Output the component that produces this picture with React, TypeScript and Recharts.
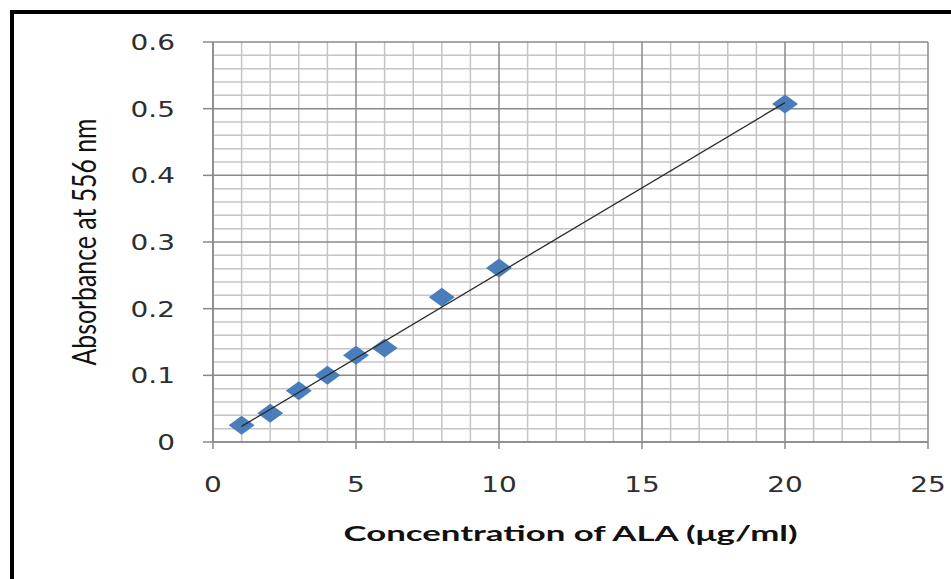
import React from 'react';
import { ReferenceLine, Scatter, ScatterChart, XAxis, YAxis } from 'recharts';

const concentration = [1, 2, 3, 4, 5, 6, 8, 10, 20];
const absorbance = [0.025, 0.043, 0.077, 0.1, 0.13, 0.141, 0.217, 0.261, 0.507];

// linear trendline end points
const trendX = [1, 20];
const trendY = [0.0235, 0.509];

const xTicks = [0, 5, 10, 15, 20, 25];
const yTicks = [0, 0.1, 0.2, 0.3, 0.4, 0.5, 0.6];

const points = concentration.map((x, i) => ({ x, y: absorbance[i] }));
const trend = trendX.map((x, i) => ({ x, y: trendY[i] }));

// minor grid every 1 unit on x and 0.02 on y
const xMinor = Array.from({ length: 26 }, (_, i) => i).filter((v) => v % 5 !== 0);
const yMinor = Array.from({ length: 31 }, (_, i) => i)
  .filter((i) => i % 5 !== 0)
  .map((i) => +(i * 0.02).toFixed(2));

const MINOR = '#c4c4c4';
const MAJOR = '#8a8a8a';
const TEXT = '#2e2e2e';

function YTick({ x, y, payload }: any) {
  return (
    <g transform={`translate(${x},${y}) scale(1.27,1)`}>
      <text x={0} y={0} dy="0.36em" textAnchor="end" fontFamily="DejaVu Sans" fontSize={22} fill={TEXT}>
        {payload.value}
      </text>
    </g>
  );
}

function XTick({ x, y, payload }: any) {
  return (
    <g transform={`translate(${x},${y}) scale(1.27,1)`}>
      <text x={0} y={43} textAnchor="middle" fontFamily="DejaVu Sans" fontSize={22} fill={TEXT}>
        {payload.value}
      </text>
    </g>
  );
}

function Diamond({ cx, cy }: any) {
  if (cx == null || cy == null) return <g />;
  const w = 13;
  const h = 9.5;
  return (
    <polygon
      points={`${cx - w},${cy} ${cx},${cy - h} ${cx + w},${cy} ${cx},${cy + h}`}
      fill="#4a7ebb"
    />
  );
}

const noDot = () => <g />;

export default function App() {
  return (
    <div style={{ position: 'absolute', left: 0, top: 0, width: 951, height: 579, background: '#fff' }}>
      <div
        style={{
          position: 'absolute',
          left: 10,
          top: 10,
          right: 0,
          bottom: 0,
          borderLeft: '4px solid #000',
          borderTop: '4px solid #000',
        }}
      />
      <div style={{ position: 'absolute', left: 0, top: 0 }}>
        <ScatterChart width={951} height={579} margin={{ top: 42, right: 23, bottom: 0, left: 0 }}>
          <XAxis
            type="number"
            dataKey="x"
            domain={[0, 25]}
            ticks={xTicks}
            height={137}
            tickSize={7}
            tickMargin={0}
            tick={<XTick />}
            axisLine={{ stroke: MAJOR, strokeWidth: 1.5 }}
            tickLine={{ stroke: MAJOR, strokeWidth: 1.5 }}
            allowDataOverflow
          />
          <YAxis
            type="number"
            dataKey="y"
            domain={[0, 0.6]}
            ticks={yTicks}
            width={213}
            tickSize={10}
            tickMargin={28}
            tick={<YTick />}
            axisLine={{ stroke: MAJOR, strokeWidth: 1.5 }}
            tickLine={{ stroke: MAJOR, strokeWidth: 1.5 }}
            allowDataOverflow
          />
          {xMinor.map((v) => (
            <ReferenceLine key={`xm${v}`} x={v} stroke={MINOR} strokeWidth={1.5} />
          ))}
          {yMinor.map((v) => (
            <ReferenceLine key={`ym${v}`} y={v} stroke={MINOR} strokeWidth={1.5} />
          ))}
          {xTicks.map((v) => (
            <ReferenceLine key={`xM${v}`} x={v} stroke={MAJOR} strokeWidth={1.5} />
          ))}
          {yTicks.map((v) => (
            <ReferenceLine key={`yM${v}`} y={v} stroke={MAJOR} strokeWidth={1.5} />
          ))}
          <Scatter data={points} shape={<Diamond />} isAnimationActive={false} />
          <Scatter
            data={trend}
            line={{ stroke: '#2b2b2b', strokeWidth: 1.3 }}
            shape={noDot}
            isAnimationActive={false}
          />
        </ScatterChart>
      </div>
      <svg width={951} height={579} style={{ position: 'absolute', left: 0, top: 0, pointerEvents: 'none' }}>
        <text
          x={570.5}
          y={541}
          textAnchor="middle"
          fontFamily="Lato"
          fontWeight="bold"
          fontSize={21}
          fill="#111"
          textLength={454}
          lengthAdjust="spacingAndGlyphs"
        >
          Concentration of ALA (μg/ml)
        </text>
        <g transform="translate(96,242) scale(1.4,1) rotate(-90)">
          <text
            x={0}
            y={0}
            textAnchor="middle"
            fontFamily="Lato"
            fontSize={24}
            fill="#111"
            textLength={247}
            lengthAdjust="spacingAndGlyphs"
          >
            Absorbance at 556 nm
          </text>
        </g>
      </svg>
    </div>
  );
}
